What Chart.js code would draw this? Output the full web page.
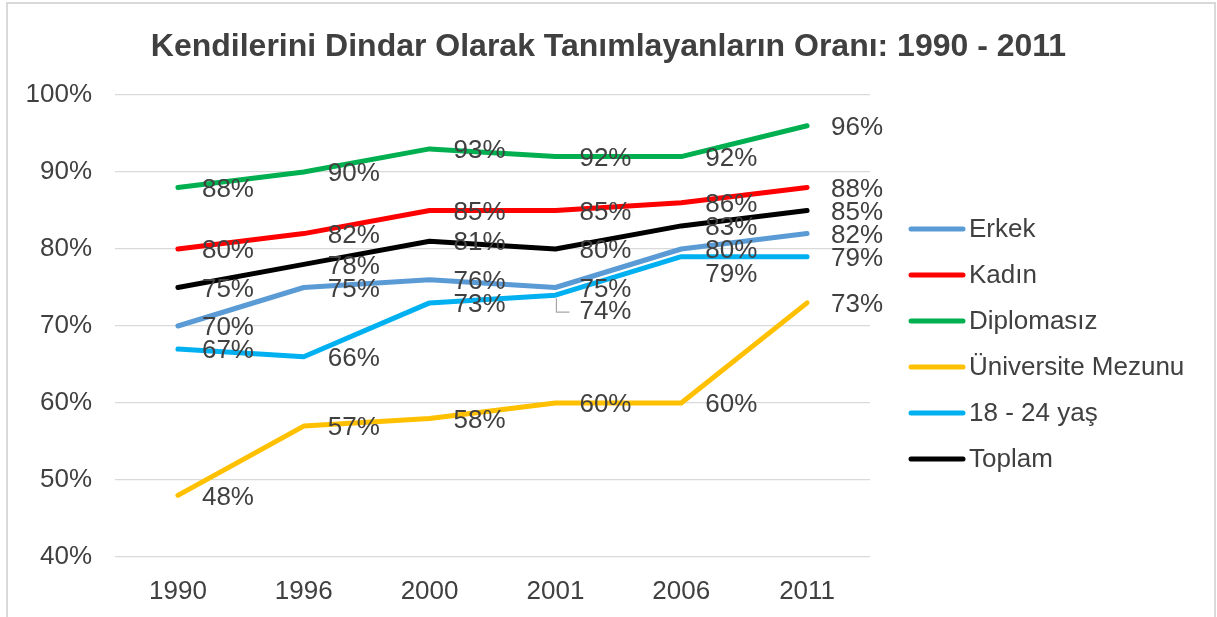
<!DOCTYPE html>
<html>
<head>
<meta charset="utf-8">
<script src="https://cdn.jsdelivr.net/npm/chart.js@4.4.1/dist/chart.umd.min.js"></script>
<style>
  html, body { margin: 0; padding: 0; background: #ffffff; overflow: hidden; }
  #wrap { position: relative; width: 1217px; height: 617px; }
  #c { position: absolute; left: 0; top: 0; }
  #frame { position: absolute; left: 6px; top: 2px; width: 1206px; height: 640px; border: 2px solid #d9d9d9; pointer-events: none; }
</style>
</head>
<body>
<div id="wrap">
  <canvas id="c" width="1217" height="617"></canvas>
  <div id="frame"></div>
</div>
<script>
const TITLE = 'Kendilerini Dindar Olarak Tanımlayanların Oranı: 1990 - 2011';
const years = ['1990', '1996', '2000', '2001', '2006', '2011'];
const seriesNames = ['Erkek', 'Kadın', 'Diplomasız', 'Üniversite Mezunu', '18 - 24 yaş', 'Toplam'];
const erkek = [70, 75, 76, 75, 80, 82];
const kadin = [80, 82, 85, 85, 86, 88];
const diplomasiz = [88, 90, 93, 92, 92, 96];
const universite = [48, 57, 58, 60, 60, 73];
const genc = [67, 66, 73, 74, 79, 79];
const toplam = [75, 78, 81, 80, 83, 85];
const yTicks = [40, 50, 60, 70, 80, 90, 100];

const colors = ['#5B9BD5', '#FF0000', '#00B050', '#FFC000', '#00B0F0', '#000000'];
const values = [erkek, kadin, diplomasiz, universite, genc, toplam];
const FONT = "'Liberation Sans', Arial, sans-serif";
const TEXT = '#404040';

const datasets = seriesNames.map((name, i) => ({
  label: name,
  data: values[i],
  borderColor: colors[i],
  backgroundColor: colors[i],
  borderWidth: 5,
  borderCapStyle: 'round',
  borderJoinStyle: 'round',
  pointRadius: 0,
  pointHoverRadius: 0,
  tension: 0,
  fill: false,
  order: seriesNames.length - i
}));

// labels displaced below their point (dataset index, point index, vertical shift, leader line)
const movedLabels = [
  { ds: 4, idx: 3, dy: 17, leader: true },
  { ds: 4, idx: 4, dy: 18, leader: false }
];

const dataLabels = {
  id: 'dataLabels',
  afterDatasetsDraw(chart) {
    const ctx = chart.ctx;
    ctx.save();
    ctx.font = '26px ' + FONT;
    ctx.fillStyle = TEXT;
    ctx.textAlign = 'left';
    ctx.textBaseline = 'middle';
    chart.data.datasets.forEach((ds, di) => {
      const meta = chart.getDatasetMeta(di);
      meta.data.forEach((pt, pi) => {
        const mv = movedLabels.find(m => m.ds === di && m.idx === pi);
        let dy = 2;
        if (mv) {
          dy = mv.dy;
          if (mv.leader) {
            ctx.save();
            ctx.strokeStyle = '#a6a6a6';
            ctx.lineWidth = 1.2;
            ctx.beginPath();
            ctx.moveTo(pt.x + 1, pt.y + 3);
            ctx.lineTo(pt.x + 1, pt.y + dy);
            ctx.lineTo(pt.x + 14, pt.y + dy);
            ctx.stroke();
            ctx.restore();
          }
        }
        ctx.fillText(ds.data[pi] + '%', pt.x + 24, pt.y + dy);
      });
    });
    ctx.restore();
  }
};

const sideLegend = {
  id: 'sideLegend',
  afterDraw(chart) {
    const ctx = chart.ctx;
    ctx.save();
    ctx.font = '26px ' + FONT;
    ctx.textAlign = 'left';
    ctx.textBaseline = 'middle';
    chart.data.datasets.forEach((ds, i) => {
      const y = 229 + i * 46;
      ctx.strokeStyle = ds.borderColor;
      ctx.lineWidth = 5;
      ctx.lineCap = 'round';
      ctx.beginPath();
      ctx.moveTo(911, y);
      ctx.lineTo(963, y);
      ctx.stroke();
      ctx.fillStyle = TEXT;
      ctx.fillText(ds.label, 969, y + 1);
    });
    ctx.restore();
  }
};

new Chart(document.getElementById('c'), {
  type: 'line',
  data: { labels: years, datasets },
  options: {
    responsive: false,
    animation: false,
    events: [],
    layout: { padding: { left: 0, right: 0, top: 0, bottom: 0 } },
    plugins: {
      legend: { display: false },
      tooltip: { enabled: false },
      title: {
        display: true,
        text: TITLE,
        color: TEXT,
        font: { family: FONT, size: 32, weight: 'bold' },
        padding: { top: 28, bottom: 28.6 }
      }
    },
    scales: {
      x: {
        type: 'category',
        offset: true,
        grid: { display: false, drawTicks: false },
        border: { display: false },
        ticks: { color: TEXT, font: { family: FONT, size: 26 }, padding: 19, maxRotation: 0 },
        afterFit: s => { s.height = 60; }
      },
      y: {
        min: 40,
        max: 100,
        afterBuildTicks: s => { s.ticks = yTicks.map(v => ({ value: v })); },
        grid: { color: '#d9d9d9', lineWidth: 1.3, drawTicks: false },
        border: { display: false },
        ticks: { color: TEXT, font: { family: FONT, size: 26 }, padding: 23, callback: v => v + '%' },
        afterFit: s => { s.width = 115; }
      },
      yR: {
        type: 'linear',
        position: 'right',
        display: true,
        grid: { display: false, drawTicks: false },
        border: { display: false },
        ticks: { display: false },
        afterFit: s => { s.width = 347; }
      }
    }
  },
  plugins: [dataLabels, sideLegend]
});
</script>
</body>
</html>
